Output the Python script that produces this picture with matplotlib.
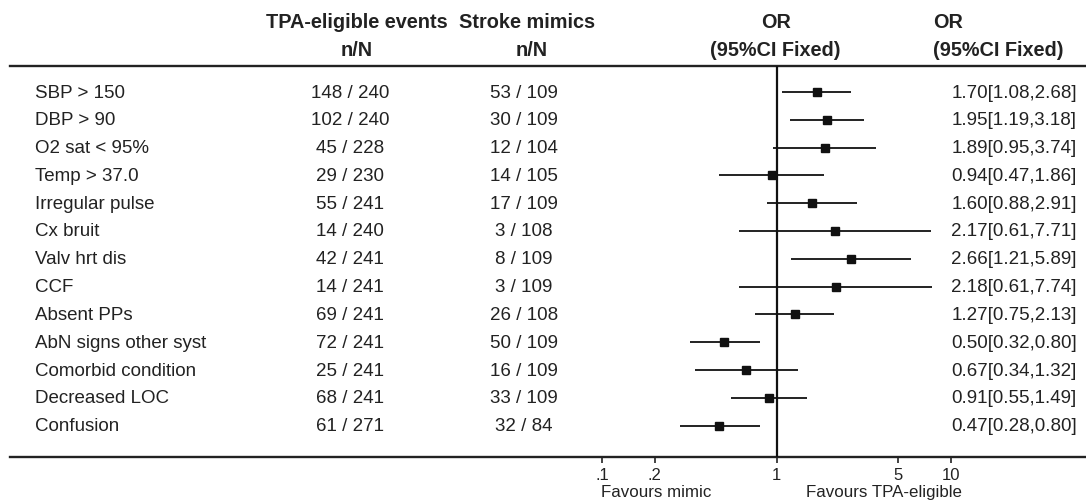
import matplotlib
matplotlib.use("Agg")
import matplotlib.pyplot as plt
import matplotlib.transforms as mtransforms
from matplotlib.lines import Line2D

plt.rcParams['font.family'] = ['Liberation Sans', 'DejaVu Sans']

# ---------------- data ----------------
labels = ["SBP > 150", "DBP > 90", "O2 sat < 95%", "Temp > 37.0", "Irregular pulse",
          "Cx bruit", "Valv hrt dis", "CCF", "Absent PPs", "AbN signs other syst",
          "Comorbid condition", "Decreased LOC", "Confusion"]
tpa_n = [148, 102, 45, 29, 55, 14, 42, 14, 69, 72, 25, 68, 61]
tpa_N = [240, 240, 228, 230, 241, 240, 241, 241, 241, 241, 241, 241, 271]
mim_n = [53, 30, 12, 14, 17, 3, 8, 3, 26, 50, 16, 33, 32]
mim_N = [109, 109, 104, 105, 109, 108, 109, 109, 108, 109, 109, 109, 84]
or_val = [1.70, 1.95, 1.89, 0.94, 1.60, 2.17, 2.66, 2.18, 1.27, 0.50, 0.67, 0.91, 0.47]
ci_lo = [1.08, 1.19, 0.95, 0.47, 0.88, 0.61, 1.21, 0.61, 0.75, 0.32, 0.34, 0.55, 0.28]
ci_hi = [2.68, 3.18, 3.74, 1.86, 2.91, 7.71, 5.89, 7.74, 2.13, 0.80, 1.32, 1.49, 0.80]
tick_vals = [0.1, 0.2, 1, 5, 10]
tick_labels = [".1", ".2", "1", "5", "10"]

# ---------------- layout ----------------
W, H = 1086, 502
fig = plt.figure(figsize=(W / 100, H / 100), dpi=100)
fig.patch.set_facecolor("white")

# overlay axes in pixel coordinates (for text columns / rules)
ov = fig.add_axes([0, 0, 1, 1])
ov.set_xlim(0, W)
ov.set_ylim(H, 0)
ov.axis("off")

top_y, bot_y = 67, 458
x_lo_px, x_hi_px = 602, 951
row0, rowstep = 93, 27.8
n = len(labels)

fa = fig.add_axes([x_lo_px / W, (H - bot_y) / H, (x_hi_px - x_lo_px) / W, (bot_y - top_y) / H])
fa.set_xscale("log")
fa.set_xlim(0.1, 10)
fa.set_ylim(n - 1 + (bot_y - (row0 + (n - 1) * rowstep)) / rowstep, -(row0 - top_y) / rowstep)
fa.patch.set_alpha(0)
for s in fa.spines.values():
    s.set_visible(False)
fa.set_yticks([])
fa.set_xticks(tick_vals)
fa.set_xticklabels(tick_labels)
fa.xaxis.set_minor_locator(matplotlib.ticker.NullLocator())
fa.tick_params(axis="x", direction="out", length=4, width=1.2, pad=3,
               labelsize=12, colors="#222222")

ys = list(range(n))
fa.hlines(ys, ci_lo, ci_hi, color="#111111", lw=1.3)
fa.plot(or_val, ys, "s", color="#111111", ms=5.8, ls="none")
fa.axvline(1, color="#111111", lw=1.6)

# horizontal rules
ov.add_line(Line2D([10, W], [top_y, top_y], color="#222222", lw=1.7))
ov.add_line(Line2D([10, W], [bot_y, bot_y], color="#222222", lw=1.7))

# row text: x in pixels, y in forest data coordinates
tr = mtransforms.blended_transform_factory(ov.transData, fa.transData)
fs = 13.5
tc = "#222222"
for i in range(n):
    ov.text(35, i, labels[i], transform=tr, ha="left", va="center", fontsize=fs, color=tc)
    ov.text(350, i, f"{tpa_n[i]} / {tpa_N[i]}", transform=tr, ha="center", va="center",
            fontsize=fs, color=tc)
    ov.text(524, i, f"{mim_n[i]} / {mim_N[i]}", transform=tr, ha="center", va="center",
            fontsize=fs, color=tc)
    ov.text(1077, i, f"{or_val[i]:.2f}[{ci_lo[i]:.2f},{ci_hi[i]:.2f}]", transform=tr,
            ha="right", va="center", fontsize=fs, color=tc)

# headers
hfs = 14.3
ov.text(357, 23, "TPA-eligible events", ha="center", va="center", fontsize=hfs,
        fontweight="bold", color=tc)
ov.text(357, 50, "n/N", ha="center", va="center", fontsize=hfs, fontweight="bold", color=tc)
ov.text(527, 23, "Stroke mimics", ha="center", va="center", fontsize=hfs,
        fontweight="bold", color=tc)
ov.text(532, 50, "n/N", ha="center", va="center", fontsize=hfs, fontweight="bold", color=tc)
ov.text(776, 23, "OR", ha="center", va="center", fontsize=hfs, fontweight="bold", color=tc)
ov.text(775, 50, "(95%CI Fixed)", ha="center", va="center", fontsize=hfs,
        fontweight="bold", color=tc)
ov.text(933, 23, "OR", ha="left", va="center", fontsize=hfs, fontweight="bold", color=tc)
ov.text(933, 50, "(95%CI Fixed)", ha="left", va="center", fontsize=hfs,
        fontweight="bold", color=tc)

# favours labels
ov.text(656, 493, "Favours mimic", ha="center", va="center", fontsize=12.2, color=tc)
ov.text(884, 493, "Favours TPA-eligible", ha="center", va="center", fontsize=12.2, color=tc)

fig.savefig("out.png", dpi=100, facecolor="white")
